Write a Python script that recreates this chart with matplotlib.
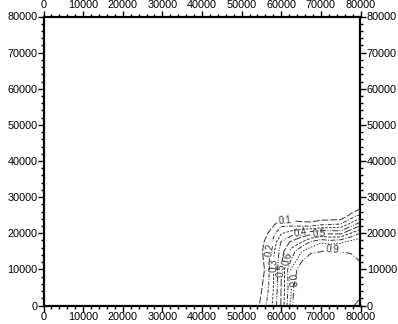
import numpy as np
import matplotlib
matplotlib.use('Agg')
from matplotlib import pyplot as plt
from matplotlib.ticker import MultipleLocator, StrMethodFormatter

plt.rcParams['font.family'] = ['Liberation Sans', 'DejaVu Sans']

# grid (x columns, y rows)
x_grid = [0, 50000, 52500, 55000, 57500, 60000, 62500, 65000, 67500, 70000, 72500, 75000, 77500, 80000]
y_grid = [0, 5000, 10000, 12500, 15000, 17500, 20000, 22500, 25000, 27500, 30000, 80000]

z_y0 = [0, 0, 0, 0.128, 0.28, 0.51, 0.833, 1.25, 1.35, 1.4, 1.35, 1.1, 0.95, 0.82]
z_y5000 = [0, 0, 0, 0.09, 0.243, 0.505, 0.79, 1.22, 1.35, 1.4, 1.35, 1.25, 1.1, 1.0]
z_y10000 = [0, 0, 0, 0.037, 0.24, 0.495, 0.8125, 0.96, 1.1, 1.2, 1.2, 1.15, 1.05, 0.93]
z_y12500 = [0, 0, 0, 0.067, 0.233, 0.472, 0.705, 0.88, 1.005, 1.1, 1.05, 1.0, 0.95, 0.89]
z_y15000 = [0, 0, 0, 0.084, 0.229, 0.451, 0.64, 0.79, 0.868, 0.89, 0.95, 0.89, 0.885, 0.885]
z_y17500 = [0, 0, 0, 0.07, 0.19, 0.41, 0.52, 0.6, 0.72, 0.79, 0.76, 0.787, 0.84, 0.875]
z_y20000 = [0, 0, 0, 0.03, 0.14, 0.29, 0.35, 0.42, 0.46, 0.49, 0.48, 0.476, 0.6, 0.705]
z_y22500 = [0, 0, 0, 0, 0.06, 0.17, 0.16, 0.14, 0.133, 0.18, 0.19, 0.205, 0.33, 0.46]
z_y25000 = [0, 0, 0, 0, 0, 0, 0, 0, 0, 0, 0, 0, 0.12, 0.22]
z_y27500 = [0, 0, 0, 0, 0, 0, 0, 0, 0, 0, 0, 0, 0, 0.053]
z_y30000 = [0] * 14
z_y80000 = [0] * 14

levels = [0.1, 0.2, 0.3, 0.4, 0.5, 0.6, 0.7, 0.8, 0.9]

# where the labels sit on the picture
label_pos = [(61000, 23500), (57300, 15400), (58400, 11200), (65000, 20200),
             (69500, 19900), (60300, 9800), (61400, 13100), (62200, 7000),
             (73000, 16000)]

Z = np.array([z_y0, z_y5000, z_y10000, z_y12500, z_y15000, z_y17500, z_y20000,
              z_y22500, z_y25000, z_y27500, z_y30000, z_y80000])

fig = plt.figure(figsize=(3.98, 3.24), dpi=100)
ax = fig.add_axes([43.5 / 398, 1 - 305.5 / 324, 317 / 398, 289 / 324])

styles = [(0, (7, 2)), (0, (4, 1.5, 1, 1.5)), (0, (2.5, 1.5)), (0, (6, 1.5, 1, 1.5, 1, 1.5)),
          (0, (8, 2)), (0, (3, 1.5)), (0, (5, 1.5, 1, 1.5)), (0, (1.5, 1.5)), (0, (7, 2, 1, 2))]
cs = ax.contour(x_grid, y_grid, Z, levels=levels, colors='#333333',
                linewidths=0.7, linestyles=styles)
ax.clabel(cs, fmt='%.1f', fontsize=7, inline=True, inline_spacing=2,
          manual=label_pos, colors='#333333')

ax.set_xlim(0, 80000)
ax.set_ylim(0, 80000)
ax.xaxis.set_major_locator(MultipleLocator(10000))
ax.yaxis.set_major_locator(MultipleLocator(10000))
ax.xaxis.set_minor_locator(MultipleLocator(2000))
ax.yaxis.set_minor_locator(MultipleLocator(2000))
ax.xaxis.set_major_formatter(StrMethodFormatter('{x:.0f}'))
ax.yaxis.set_major_formatter(StrMethodFormatter('{x:.0f}'))

ax.tick_params(which='both', direction='out', top=True, right=True,
               labeltop=True, labelright=True, labelsize=7.8, pad=0.5, width=1)
ax.tick_params(which='major', length=4)
ax.tick_params(which='minor', length=2)
for sp in ax.spines.values():
    sp.set_linewidth(1.6)

fig.savefig('out.png', dpi=100)
